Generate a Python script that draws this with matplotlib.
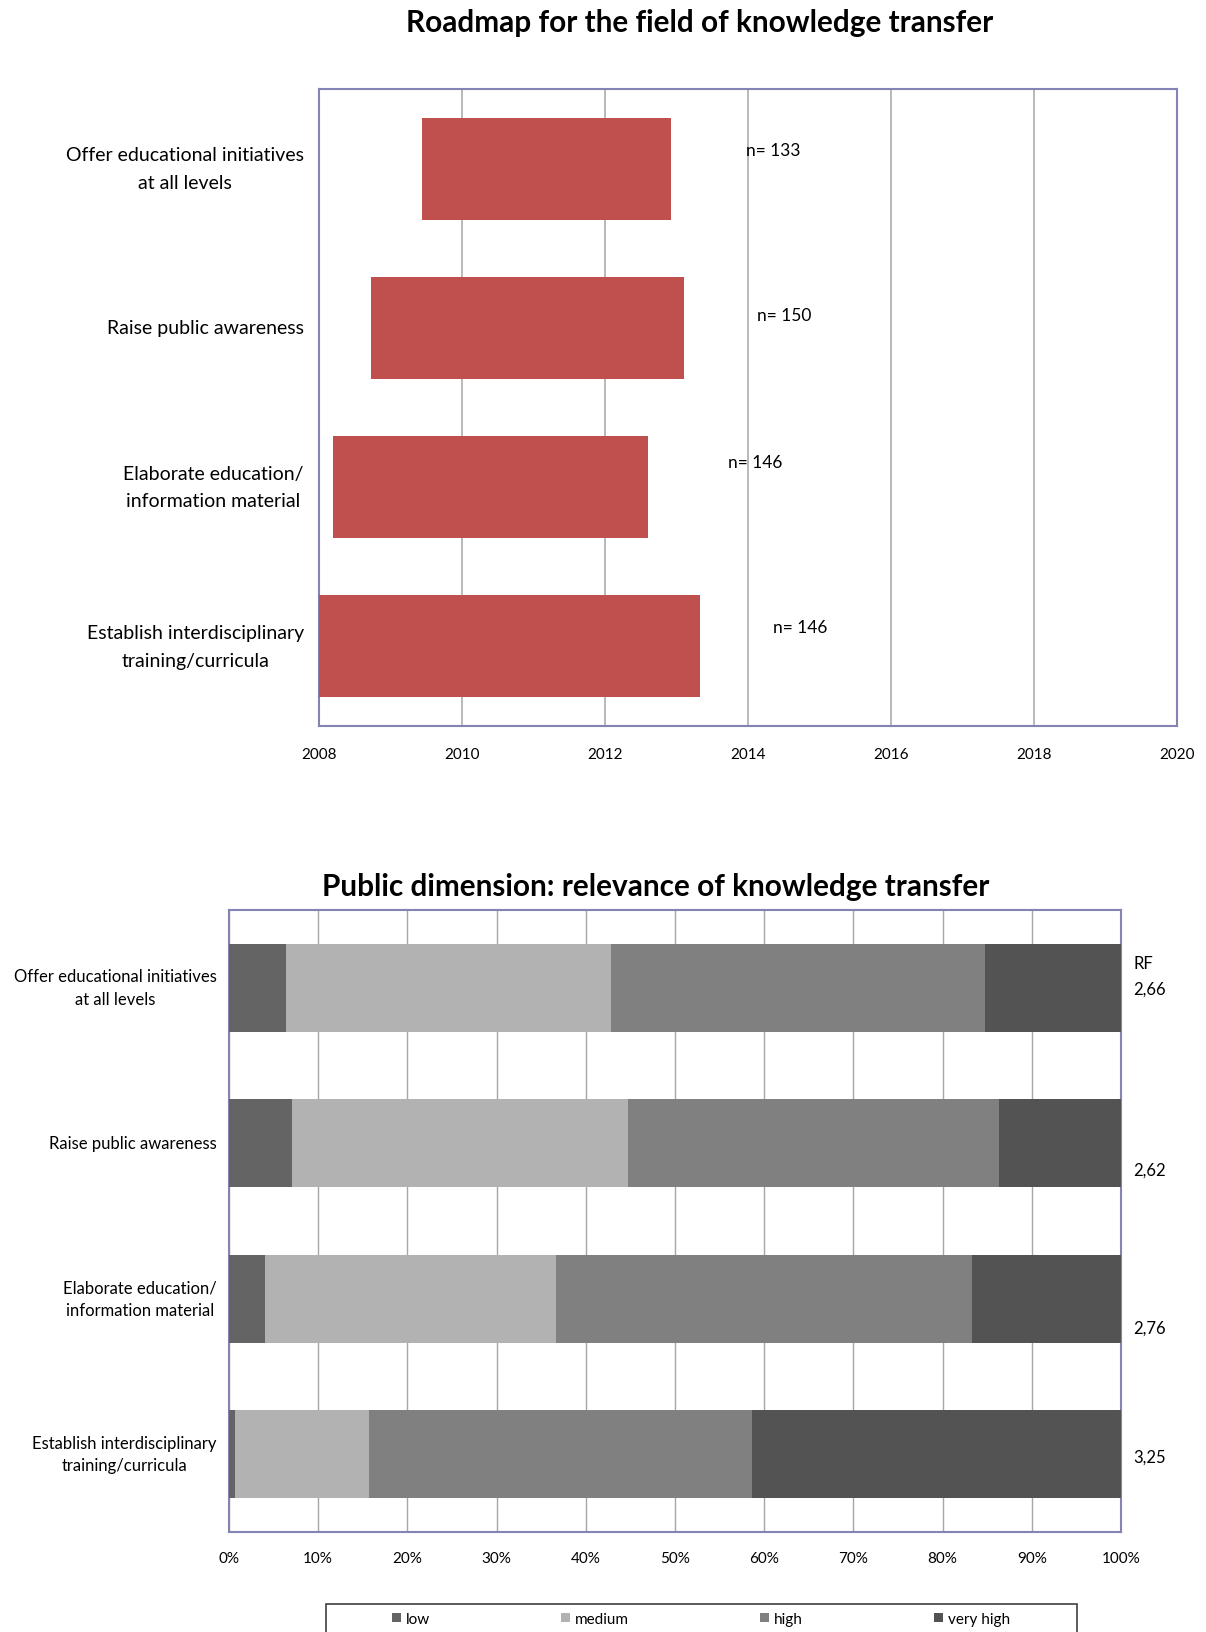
import numpy as np
import matplotlib
matplotlib.use("Agg")
import matplotlib.pyplot as plt
from matplotlib.patches import Rectangle
import matplotlib.transforms as mtransforms

plt.rcParams['font.family'] = ['Lato', 'DejaVu Sans']

# ---- data -------------------------------------------------------------
measures = [
    "Offer educational initiatives\nat all levels",
    "Raise public awareness",
    "Elaborate education/\ninformation material",
    "Establish interdisciplinary\ntraining/curricula",
]
roadmap_start = [2009.44, 2008.73, 2008.20, 2008.00]
roadmap_end = [2012.92, 2013.10, 2012.60, 2013.33]
sample_sizes = [133, 150, 146, 146]
year_ticks = [2008, 2010, 2012, 2014, 2016, 2018, 2020]

levels = ["low", "medium", "high", "very high"]
share_low = [6.4, 7.1, 4.0, 0.7]
share_medium = [36.4, 37.6, 32.7, 15.0]
share_high = [42.0, 41.6, 46.6, 42.9]
share_very_high = [15.2, 13.7, 16.7, 41.4]
rf_values = ["2,66", "2,62", "2,76", "3,25"]
pct_ticks = list(range(0, 101, 10))

# ---- styling ----------------------------------------------------------
W, H = 1206, 1633
bar_red = "#c0504d"
level_colors = ["#646464", "#b2b2b2", "#808080", "#535353"]
frame_col = "#8484b4"
grid_col = "#a6a6a6"

fig = plt.figure(figsize=(W / 100, H / 100), dpi=100)


def fx(px):
    return px / W


def fy(py):
    return 1 - py / H


# ---- roadmap chart ----------------------------------------------------
ax1 = fig.add_axes([fx(319), fy(727), fx(1177 - 319), (727 - 90) / H])
ypos = np.arange(len(measures))
widths = np.array(roadmap_end) - np.array(roadmap_start)
ax1.barh(ypos, widths, left=roadmap_start, height=0.64, color=bar_red, zorder=3)
ax1.set_xlim(2008, 2020)
ax1.set_ylim(3.5, -0.5)
ax1.set_xticks(year_ticks)
ax1.set_xticklabels([str(t) for t in year_ticks], fontsize=11)
ax1.set_yticks(ypos)
ax1.set_yticklabels(measures, fontsize=14, linespacing=1.75)
for lbl in ax1.get_yticklabels():
    lbl.set_multialignment("center")
    lbl.set_verticalalignment("center")
ax1.tick_params(axis="both", length=0)
ax1.tick_params(axis="y", pad=11)
ax1.tick_params(axis="x", pad=15)
ax1.grid(axis="x", color=grid_col, lw=1.1, zorder=0)
ax1.set_axisbelow(True)
for s in ax1.spines.values():
    s.set_color(frame_col)
    s.set_linewidth(1.5)

n_label_x = [2013.97, 2014.13, 2013.72, 2014.35]
n_label_dy = [-0.118, -0.078, -0.16, -0.12]
for i, n in enumerate(sample_sizes):
    ax1.text(n_label_x[i], ypos[i] + n_label_dy[i], f"n= {n}", fontsize=12.5,
             ha="left", va="center", zorder=4)

fig.text(fx(700), fy(23), "Roadmap for the field of knowledge transfer",
         fontsize=21.4, fontweight="bold", ha="center", va="center")

# ---- relevance chart --------------------------------------------------
ax2 = fig.add_axes([fx(229), fy(1533), fx(1121 - 229), (1533 - 911) / H])
shares = [share_low, share_medium, share_high, share_very_high]
left = np.zeros(len(measures))
for lev, vals, col in zip(levels, shares, level_colors):
    ax2.barh(ypos, vals, left=left, height=0.565, color=col, label=lev, zorder=3)
    left += np.array(vals)
ax2.set_xlim(0, 100)
ax2.set_ylim(3.5, -0.5)
ax2.set_xticks(pct_ticks)
ax2.set_xticklabels([f"{t}%" for t in pct_ticks], fontsize=11)
ax2.set_yticks(ypos)
ax2.set_yticklabels(measures, fontsize=12, linespacing=1.5)
for lbl in ax2.get_yticklabels():
    lbl.set_multialignment("center")
    lbl.set_verticalalignment("center")
ax2.tick_params(axis="both", length=0)
ax2.tick_params(axis="y", pad=9)
ax2.tick_params(axis="x", pad=14)
ax2.grid(axis="x", color=grid_col, lw=1.0, zorder=0)
ax2.set_axisbelow(True)
for s in ax2.spines.values():
    s.set_color(frame_col)
    s.set_linewidth(1.5)

trans = mtransforms.blended_transform_factory(ax2.transAxes, ax2.transData)
rf_dy = [0.007, 0.17, 0.185, 0.013]
ax2.text(1.0135, ypos[0] - 0.16, "RF", transform=trans, fontsize=12,
         ha="left", va="center")
for i, rf in enumerate(rf_values):
    ax2.text(1.0135, ypos[i] + rf_dy[i], rf, transform=trans, fontsize=12,
             ha="left", va="center")

fig.text(fx(655.6), fy(887), "Public dimension: relevance of knowledge transfer",
         fontsize=21.4, fontweight="bold", ha="center", va="center")

# legend box running off the lower edge
fig.patches.append(Rectangle((fx(326), fy(1650)), fx(1077 - 326), (1650 - 1605) / H,
                             transform=fig.transFigure, fill=False,
                             edgecolor="#404040", lw=1.2))
handles, labels = ax2.get_legend_handles_labels()
fig.legend(handles, labels, ncol=4, mode="expand", frameon=False,
           bbox_to_anchor=(fx(392), fy(1632), fx(1010 - 392), fy(1608) - fy(1632)),
           loc="center", fontsize=11, handlelength=0.6, handleheight=0.6,
           handletextpad=0.3, borderpad=0.0, borderaxespad=0.0)

fig.savefig("out.png", dpi=100)
